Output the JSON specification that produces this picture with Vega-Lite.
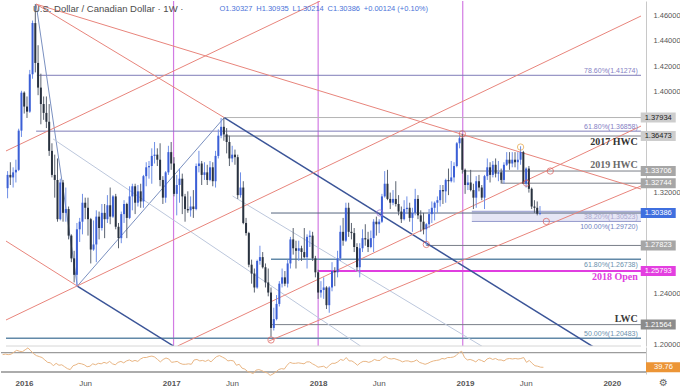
{
"$schema":"https://vega.github.io/schema/vega-lite/v6.json",
"padding":0,"spacing":1,"bounds":"flush","background":"white",
"config":{"view":{"stroke":null},"font":"Liberation Sans","axis":{"grid":false}},
"datasets":{
"candles":[
{"d":"2015-11-09","o":1.3235,"h":1.337,"l":1.3155,"c":1.334,"r":66},
{"d":"2015-11-16","o":1.334,"h":1.344,"l":1.326,"c":1.332,"r":67},
{"d":"2015-11-23","o":1.332,"h":1.34,"l":1.324,"c":1.336,"r":66},
{"d":"2015-11-30","o":1.336,"h":1.346,"l":1.328,"c":1.338,"r":67},
{"d":"2015-12-07","o":1.338,"h":1.3705,"l":1.337,"c":1.369,"r":71},
{"d":"2015-12-14","o":1.369,"h":1.4005,"l":1.364,"c":1.399,"r":75},
{"d":"2015-12-21","o":1.399,"h":1.4,"l":1.3825,"c":1.388,"r":73},
{"d":"2015-12-28","o":1.388,"h":1.396,"l":1.379,"c":1.384,"r":72},
{"d":"2016-01-04","o":1.384,"h":1.417,"l":1.383,"c":1.4135,"r":76},
{"d":"2016-01-11","o":1.4135,"h":1.456,"l":1.41,"c":1.454,"r":80},
{"d":"2016-01-18","o":1.454,"h":1.469,"l":1.415,"c":1.4225,"r":74},
{"d":"2016-01-25","o":1.4225,"h":1.4365,"l":1.397,"c":1.403,"r":68},
{"d":"2016-02-01","o":1.403,"h":1.414,"l":1.374,"c":1.39,"r":64},
{"d":"2016-02-08","o":1.39,"h":1.396,"l":1.3775,"c":1.383,"r":62},
{"d":"2016-02-15","o":1.383,"h":1.396,"l":1.371,"c":1.376,"r":60},
{"d":"2016-02-22","o":1.376,"h":1.39,"l":1.349,"c":1.353,"r":55},
{"d":"2016-02-29","o":1.353,"h":1.359,"l":1.332,"c":1.334,"r":50},
{"d":"2016-03-07","o":1.334,"h":1.35,"l":1.316,"c":1.33,"r":49},
{"d":"2016-03-14","o":1.33,"h":1.347,"l":1.297,"c":1.299,"r":43},
{"d":"2016-03-21","o":1.299,"h":1.331,"l":1.298,"c":1.328,"r":48},
{"d":"2016-03-28","o":1.328,"h":1.33,"l":1.297,"c":1.304,"r":44},
{"d":"2016-04-04","o":1.304,"h":1.324,"l":1.297,"c":1.307,"r":45},
{"d":"2016-04-11","o":1.307,"h":1.309,"l":1.283,"c":1.286,"r":41},
{"d":"2016-04-18","o":1.286,"h":1.287,"l":1.265,"c":1.268,"r":37},
{"d":"2016-04-25","o":1.268,"h":1.274,"l":1.249,"c":1.255,"r":35},
{"d":"2016-05-02","o":1.255,"h":1.296,"l":1.246,"c":1.291,"r":43},
{"d":"2016-05-09","o":1.291,"h":1.3,"l":1.281,"c":1.297,"r":45},
{"d":"2016-05-16","o":1.297,"h":1.319,"l":1.287,"c":1.312,"r":48},
{"d":"2016-05-23","o":1.312,"h":1.316,"l":1.299,"c":1.308,"r":47},
{"d":"2016-05-30","o":1.308,"h":1.316,"l":1.286,"c":1.299,"r":45},
{"d":"2016-06-06","o":1.299,"h":1.3,"l":1.264,"c":1.275,"r":41},
{"d":"2016-06-13","o":1.275,"h":1.298,"l":1.274,"c":1.279,"r":42},
{"d":"2016-06-20","o":1.279,"h":1.306,"l":1.265,"c":1.301,"r":47},
{"d":"2016-06-27","o":1.301,"h":1.305,"l":1.283,"c":1.292,"r":45},
{"d":"2016-07-04","o":1.292,"h":1.311,"l":1.29,"c":1.304,"r":48},
{"d":"2016-07-11","o":1.304,"h":1.311,"l":1.284,"c":1.299,"r":47},
{"d":"2016-07-18","o":1.299,"h":1.318,"l":1.296,"c":1.31,"r":50},
{"d":"2016-07-25","o":1.31,"h":1.324,"l":1.295,"c":1.301,"r":48},
{"d":"2016-08-01","o":1.301,"h":1.318,"l":1.3,"c":1.317,"r":52},
{"d":"2016-08-08","o":1.317,"h":1.319,"l":1.291,"c":1.293,"r":47},
{"d":"2016-08-15","o":1.293,"h":1.296,"l":1.276,"c":1.284,"r":45},
{"d":"2016-08-22","o":1.284,"h":1.305,"l":1.28,"c":1.303,"r":50},
{"d":"2016-08-29","o":1.303,"h":1.314,"l":1.296,"c":1.311,"r":52},
{"d":"2016-09-05","o":1.311,"h":1.312,"l":1.284,"c":1.3,"r":49},
{"d":"2016-09-12","o":1.3,"h":1.325,"l":1.299,"c":1.317,"r":53},
{"d":"2016-09-19","o":1.317,"h":1.327,"l":1.306,"c":1.325,"r":55},
{"d":"2016-09-26","o":1.325,"h":1.327,"l":1.303,"c":1.312,"r":52},
{"d":"2016-10-03","o":1.312,"h":1.326,"l":1.309,"c":1.321,"r":54},
{"d":"2016-10-10","o":1.321,"h":1.327,"l":1.308,"c":1.313,"r":52},
{"d":"2016-10-17","o":1.313,"h":1.334,"l":1.308,"c":1.333,"r":57},
{"d":"2016-10-24","o":1.333,"h":1.344,"l":1.325,"c":1.34,"r":60},
{"d":"2016-10-31","o":1.34,"h":1.345,"l":1.331,"c":1.341,"r":60},
{"d":"2016-11-07","o":1.341,"h":1.355,"l":1.327,"c":1.349,"r":62},
{"d":"2016-11-14","o":1.349,"h":1.36,"l":1.343,"c":1.35,"r":63},
{"d":"2016-11-21","o":1.35,"h":1.355,"l":1.341,"c":1.346,"r":61},
{"d":"2016-11-28","o":1.346,"h":1.359,"l":1.325,"c":1.33,"r":56},
{"d":"2016-12-05","o":1.33,"h":1.333,"l":1.311,"c":1.316,"r":51},
{"d":"2016-12-12","o":1.316,"h":1.337,"l":1.312,"c":1.336,"r":56},
{"d":"2016-12-19","o":1.336,"h":1.357,"l":1.334,"c":1.352,"r":59},
{"d":"2016-12-26","o":1.352,"h":1.36,"l":1.338,"c":1.343,"r":57},
{"d":"2017-01-02","o":1.343,"h":1.348,"l":1.317,"c":1.319,"r":50},
{"d":"2017-01-09","o":1.319,"h":1.334,"l":1.302,"c":1.326,"r":51},
{"d":"2017-01-16","o":1.326,"h":1.339,"l":1.312,"c":1.331,"r":52},
{"d":"2017-01-23","o":1.331,"h":1.335,"l":1.303,"c":1.317,"r":48},
{"d":"2017-01-30","o":1.317,"h":1.319,"l":1.297,"c":1.307,"r":46},
{"d":"2017-02-06","o":1.307,"h":1.321,"l":1.304,"c":1.306,"r":46},
{"d":"2017-02-13","o":1.306,"h":1.317,"l":1.301,"c":1.309,"r":47},
{"d":"2017-02-20","o":1.309,"h":1.322,"l":1.3,"c":1.307,"r":46},
{"d":"2017-02-27","o":1.307,"h":1.343,"l":1.306,"c":1.341,"r":55},
{"d":"2017-03-06","o":1.341,"h":1.353,"l":1.336,"c":1.343,"r":56},
{"d":"2017-03-13","o":1.343,"h":1.345,"l":1.326,"c":1.334,"r":53},
{"d":"2017-03-20","o":1.334,"h":1.344,"l":1.33,"c":1.336,"r":54},
{"d":"2017-03-27","o":1.336,"h":1.342,"l":1.326,"c":1.33,"r":52},
{"d":"2017-04-03","o":1.33,"h":1.345,"l":1.329,"c":1.34,"r":55},
{"d":"2017-04-10","o":1.34,"h":1.344,"l":1.325,"c":1.329,"r":51},
{"d":"2017-04-17","o":1.329,"h":1.353,"l":1.324,"c":1.349,"r":57},
{"d":"2017-04-24","o":1.349,"h":1.37,"l":1.347,"c":1.365,"r":62},
{"d":"2017-05-01","o":1.365,"h":1.379,"l":1.363,"c":1.372,"r":64},
{"d":"2017-05-08","o":1.372,"h":1.3793,"l":1.361,"c":1.366,"r":61},
{"d":"2017-05-15","o":1.366,"h":1.371,"l":1.351,"c":1.36,"r":58},
{"d":"2017-05-22","o":1.36,"h":1.365,"l":1.341,"c":1.347,"r":53},
{"d":"2017-05-29","o":1.347,"h":1.357,"l":1.344,"c":1.35,"r":54},
{"d":"2017-06-05","o":1.35,"h":1.354,"l":1.342,"c":1.348,"r":53},
{"d":"2017-06-12","o":1.348,"h":1.35,"l":1.315,"c":1.318,"r":44},
{"d":"2017-06-19","o":1.318,"h":1.336,"l":1.316,"c":1.324,"r":46},
{"d":"2017-06-26","o":1.324,"h":1.329,"l":1.295,"c":1.296,"r":38},
{"d":"2017-07-03","o":1.296,"h":1.3,"l":1.286,"c":1.288,"r":36},
{"d":"2017-07-10","o":1.288,"h":1.289,"l":1.261,"c":1.263,"r":31},
{"d":"2017-07-17","o":1.263,"h":1.267,"l":1.248,"c":1.256,"r":29},
{"d":"2017-07-24","o":1.256,"h":1.26,"l":1.241,"c":1.245,"r":27},
{"d":"2017-07-31","o":1.245,"h":1.267,"l":1.244,"c":1.266,"r":34},
{"d":"2017-08-07","o":1.266,"h":1.278,"l":1.263,"c":1.269,"r":35},
{"d":"2017-08-14","o":1.269,"h":1.273,"l":1.26,"c":1.261,"r":33},
{"d":"2017-08-21","o":1.261,"h":1.264,"l":1.245,"c":1.249,"r":30},
{"d":"2017-08-28","o":1.249,"h":1.26,"l":1.238,"c":1.241,"r":28},
{"d":"2017-09-04","o":1.241,"h":1.245,"l":1.2061,"c":1.213,"r":23},
{"d":"2017-09-11","o":1.213,"h":1.229,"l":1.211,"c":1.22,"r":26},
{"d":"2017-09-18","o":1.22,"h":1.239,"l":1.219,"c":1.232,"r":30},
{"d":"2017-09-25","o":1.232,"h":1.25,"l":1.23,"c":1.248,"r":35},
{"d":"2017-10-02","o":1.248,"h":1.26,"l":1.245,"c":1.253,"r":37},
{"d":"2017-10-09","o":1.253,"h":1.258,"l":1.246,"c":1.248,"r":36},
{"d":"2017-10-16","o":1.248,"h":1.267,"l":1.245,"c":1.264,"r":44},
{"d":"2017-10-23","o":1.264,"h":1.285,"l":1.26,"c":1.283,"r":50},
{"d":"2017-10-30","o":1.283,"h":1.292,"l":1.271,"c":1.276,"r":48},
{"d":"2017-11-06","o":1.276,"h":1.282,"l":1.26,"c":1.274,"r":48},
{"d":"2017-11-13","o":1.274,"h":1.282,"l":1.266,"c":1.276,"r":49},
{"d":"2017-11-20","o":1.276,"h":1.278,"l":1.266,"c":1.273,"r":48},
{"d":"2017-11-27","o":1.273,"h":1.292,"l":1.268,"c":1.269,"r":47},
{"d":"2017-12-04","o":1.269,"h":1.287,"l":1.26,"c":1.285,"r":51},
{"d":"2017-12-11","o":1.285,"h":1.29,"l":1.277,"c":1.286,"r":51},
{"d":"2017-12-18","o":1.286,"h":1.289,"l":1.266,"c":1.268,"r":47},
{"d":"2017-12-25","o":1.268,"h":1.27,"l":1.253,"c":1.257,"r":44},
{"d":"2018-01-01","o":1.257,"h":1.259,"l":1.236,"c":1.241,"r":40},
{"d":"2018-01-08","o":1.241,"h":1.25,"l":1.237,"c":1.243,"r":41},
{"d":"2018-01-15","o":1.243,"h":1.253,"l":1.236,"c":1.245,"r":42},
{"d":"2018-01-22","o":1.245,"h":1.246,"l":1.228,"c":1.231,"r":38},
{"d":"2018-01-29","o":1.231,"h":1.246,"l":1.225,"c":1.245,"r":44},
{"d":"2018-02-05","o":1.245,"h":1.265,"l":1.242,"c":1.258,"r":48},
{"d":"2018-02-12","o":1.258,"h":1.261,"l":1.246,"c":1.257,"r":48},
{"d":"2018-02-19","o":1.257,"h":1.274,"l":1.253,"c":1.268,"r":51},
{"d":"2018-02-26","o":1.268,"h":1.294,"l":1.266,"c":1.289,"r":56},
{"d":"2018-03-05","o":1.289,"h":1.3,"l":1.278,"c":1.282,"r":54},
{"d":"2018-03-12","o":1.282,"h":1.312,"l":1.281,"c":1.308,"r":60},
{"d":"2018-03-19","o":1.308,"h":1.312,"l":1.285,"c":1.289,"r":53},
{"d":"2018-03-26","o":1.289,"h":1.296,"l":1.283,"c":1.288,"r":53},
{"d":"2018-04-02","o":1.288,"h":1.292,"l":1.273,"c":1.277,"r":49},
{"d":"2018-04-09","o":1.277,"h":1.28,"l":1.258,"c":1.261,"r":44},
{"d":"2018-04-16","o":1.261,"h":1.28,"l":1.253,"c":1.276,"r":49},
{"d":"2018-04-23","o":1.276,"h":1.291,"l":1.273,"c":1.284,"r":52},
{"d":"2018-04-30","o":1.284,"h":1.295,"l":1.278,"c":1.283,"r":52},
{"d":"2018-05-07","o":1.283,"h":1.289,"l":1.273,"c":1.277,"r":50},
{"d":"2018-05-14","o":1.277,"h":1.29,"l":1.276,"c":1.284,"r":52},
{"d":"2018-05-21","o":1.284,"h":1.299,"l":1.273,"c":1.297,"r":56},
{"d":"2018-05-28","o":1.297,"h":1.301,"l":1.286,"c":1.295,"r":54},
{"d":"2018-06-04","o":1.295,"h":1.299,"l":1.288,"c":1.297,"r":54},
{"d":"2018-06-11","o":1.297,"h":1.319,"l":1.296,"c":1.317,"r":60},
{"d":"2018-06-18","o":1.317,"h":1.337,"l":1.316,"c":1.327,"r":62},
{"d":"2018-06-25","o":1.327,"h":1.338,"l":1.314,"c":1.315,"r":58},
{"d":"2018-07-02","o":1.315,"h":1.32,"l":1.307,"c":1.312,"r":57},
{"d":"2018-07-09","o":1.312,"h":1.322,"l":1.31,"c":1.315,"r":58},
{"d":"2018-07-16","o":1.315,"h":1.329,"l":1.309,"c":1.311,"r":56},
{"d":"2018-07-23","o":1.311,"h":1.318,"l":1.302,"c":1.305,"r":54},
{"d":"2018-07-30","o":1.305,"h":1.309,"l":1.296,"c":1.299,"r":51},
{"d":"2018-08-06","o":1.299,"h":1.314,"l":1.298,"c":1.307,"r":53},
{"d":"2018-08-13","o":1.307,"h":1.317,"l":1.303,"c":1.308,"r":53},
{"d":"2018-08-20","o":1.308,"h":1.312,"l":1.297,"c":1.3,"r":51},
{"d":"2018-08-27","o":1.3,"h":1.308,"l":1.289,"c":1.304,"r":52},
{"d":"2018-09-03","o":1.304,"h":1.323,"l":1.302,"c":1.315,"r":55},
{"d":"2018-09-10","o":1.315,"h":1.318,"l":1.299,"c":1.302,"r":50},
{"d":"2018-09-17","o":1.302,"h":1.306,"l":1.289,"c":1.297,"r":48},
{"d":"2018-09-24","o":1.297,"h":1.304,"l":1.287,"c":1.291,"r":46},
{"d":"2018-10-01","o":1.291,"h":1.296,"l":1.2782,"c":1.295,"r":48},
{"d":"2018-10-08","o":1.295,"h":1.307,"l":1.292,"c":1.303,"r":51},
{"d":"2018-10-15","o":1.303,"h":1.313,"l":1.296,"c":1.308,"r":53},
{"d":"2018-10-22","o":1.308,"h":1.313,"l":1.298,"c":1.312,"r":54},
{"d":"2018-10-29","o":1.312,"h":1.317,"l":1.304,"c":1.314,"r":55},
{"d":"2018-11-05","o":1.314,"h":1.326,"l":1.309,"c":1.322,"r":58},
{"d":"2018-11-12","o":1.322,"h":1.326,"l":1.311,"c":1.321,"r":57},
{"d":"2018-11-19","o":1.321,"h":1.331,"l":1.312,"c":1.33,"r":60},
{"d":"2018-11-26","o":1.33,"h":1.339,"l":1.318,"c":1.329,"r":60},
{"d":"2018-12-03","o":1.329,"h":1.345,"l":1.328,"c":1.332,"r":61},
{"d":"2018-12-10","o":1.332,"h":1.344,"l":1.328,"c":1.341,"r":64},
{"d":"2018-12-17","o":1.341,"h":1.36,"l":1.34,"c":1.359,"r":70},
{"d":"2018-12-24","o":1.359,"h":1.365,"l":1.355,"c":1.363,"r":73},
{"d":"2018-12-31","o":1.363,"h":1.3665,"l":1.335,"c":1.338,"r":60},
{"d":"2019-01-07","o":1.338,"h":1.339,"l":1.319,"c":1.326,"r":55},
{"d":"2019-01-14","o":1.326,"h":1.334,"l":1.322,"c":1.328,"r":56},
{"d":"2019-01-21","o":1.328,"h":1.338,"l":1.321,"c":1.322,"r":54},
{"d":"2019-01-28","o":1.322,"h":1.327,"l":1.307,"c":1.316,"r":51},
{"d":"2019-02-04","o":1.316,"h":1.333,"l":1.308,"c":1.329,"r":56},
{"d":"2019-02-11","o":1.329,"h":1.334,"l":1.321,"c":1.324,"r":54},
{"d":"2019-02-18","o":1.324,"h":1.326,"l":1.314,"c":1.316,"r":51},
{"d":"2019-02-25","o":1.316,"h":1.334,"l":1.307,"c":1.333,"r":57},
{"d":"2019-03-04","o":1.333,"h":1.347,"l":1.33,"c":1.34,"r":59},
{"d":"2019-03-11","o":1.34,"h":1.344,"l":1.328,"c":1.334,"r":56},
{"d":"2019-03-18","o":1.334,"h":1.345,"l":1.332,"c":1.342,"r":58},
{"d":"2019-03-25","o":1.342,"h":1.347,"l":1.332,"c":1.335,"r":55},
{"d":"2019-04-01","o":1.335,"h":1.345,"l":1.329,"c":1.336,"r":55},
{"d":"2019-04-08","o":1.336,"h":1.339,"l":1.327,"c":1.33,"r":53},
{"d":"2019-04-15","o":1.33,"h":1.344,"l":1.327,"c":1.342,"r":57},
{"d":"2019-04-22","o":1.342,"h":1.352,"l":1.341,"c":1.346,"r":58},
{"d":"2019-04-29","o":1.346,"h":1.352,"l":1.338,"c":1.343,"r":57},
{"d":"2019-05-06","o":1.343,"h":1.352,"l":1.34,"c":1.346,"r":58},
{"d":"2019-05-13","o":1.346,"h":1.352,"l":1.34,"c":1.344,"r":57},
{"d":"2019-05-20","o":1.344,"h":1.352,"l":1.338,"c":1.346,"r":58},
{"d":"2019-05-27","o":1.346,"h":1.3566,"l":1.342,"c":1.352,"r":60},
{"d":"2019-06-03","o":1.352,"h":1.353,"l":1.327,"c":1.327,"r":50},
{"d":"2019-06-10","o":1.327,"h":1.34,"l":1.324,"c":1.339,"r":54},
{"d":"2019-06-17","o":1.339,"h":1.341,"l":1.32,"c":1.323,"r":48},
{"d":"2019-06-24","o":1.323,"h":1.324,"l":1.307,"c":1.309,"r":43},
{"d":"2019-07-01","o":1.309,"h":1.314,"l":1.304,"c":1.308,"r":42},
{"d":"2019-07-08","o":1.308,"h":1.313,"l":1.302,"c":1.3033,"r":40},
{"d":"2019-07-15","o":1.30327,"h":1.30935,"l":1.30214,"c":1.30386,"r":39.76}
],
"zone":[{"d":"2019-01-24","lo":1.2972,"hi":1.30523}],
"years":[{"d":"2017-01-01"},{"d":"2018-01-01"},{"d":"2019-01-01"}],
"levels":[
{"k":"fib","p":1.41274,"d":"2016-01-22"},
{"k":"fib","p":1.36858,"d":"2016-01-20"},
{"k":"peak","p":1.37934,"d":"2017-05-09"},
{"k":"close","p":1.36473,"d":"2017-05-08"},
{"k":"close","p":1.33706,"d":"2018-12-31"},
{"k":"close","p":1.32744,"d":"2019-04-10"},
{"k":"price","p":1.30386,"d":"2017-09-04"},
{"k":"zone","p":1.30523,"d":"2019-01-24"},
{"k":"zone","p":1.2972,"d":"2019-01-24"},
{"k":"close","p":1.27823,"d":"2018-10-01"},
{"k":"fib2","p":1.26738,"d":"2017-09-04"},
{"k":"open","p":1.25793,"d":"2018-01-01"},
{"k":"close","p":1.21564,"d":"2017-09-04"},
{"k":"fib2","p":1.20483,"d":"2015-11-05"}
],
"bracket":[{"d":"2019-04-10","lo":1.32744,"hi":1.33706}],
"trends":[
{"k":"blue","d":"2016-05-03","p":1.2461,"d2":"2017-01-01","p2":1.1987},
{"k":"blue","d":"2017-05-09","p":1.3793,"d2":"2019-11-27","p2":1.198},
{"k":"bluethin","d":"2016-05-03","p":1.2461,"d2":"2017-05-09","p2":1.3793},
{"k":"bluethin","d":"2016-01-20","p":1.469,"d2":"2016-05-03","p2":1.2461},
{"k":"tine","d":"2016-03-03","p":1.3624,"d2":"2018-04-18","p2":1.1987},
{"k":"tine","d":"2017-05-30","p":1.3173,"d2":"2019-02-22","p2":1.1979},
{"k":"salmon","d":"2016-01-20","p":1.469,"d2":"2020-03-26","p2":1.3228},
{"k":"salmon","d":"2016-01-20","p":1.469,"d2":"2017-05-09","p2":1.3793},
{"k":"salmon","d":"2015-11-05","p":1.3529,"d2":"2018-01-06","p2":1.4714},
{"k":"salmon","d":"2015-11-05","p":1.2193,"d2":"2020-03-26","p2":1.4596},
{"k":"salmon","d":"2015-11-05","p":1.2817,"d2":"2016-05-03","p2":1.2461},
{"k":"salmon","d":"2017-01-11","p":1.1987,"d2":"2020-03-26","p2":1.3726},
{"k":"salmon","d":"2017-08-30","p":1.2027,"d2":"2020-03-26","p2":1.3252}
],
"circles":[
{"k":"red","d":"2017-09-04","p":1.2035},
{"k":"red","d":"2018-10-01","p":1.279},
{"k":"red","d":"2018-12-31","p":1.3665},
{"k":"red","d":"2019-07-31","p":1.2972},
{"k":"red","d":"2019-08-10","p":1.33706},
{"k":"red","d":"2019-06-11","p":1.32744},
{"k":"purple","d":"2018-06-06","p":1.3039},
{"k":"gold","d":"2019-05-27","p":1.356}
],
"fibAbove":[
{"t":"78.60%(1.41274)","p":1.41274,"k":"fib"},
{"t":"61.80%(1.36858)","p":1.36858,"k":"fib"},
{"t":"50.00%(1.20483)","p":1.20483,"k":"fib2"}
],
"fibBelow":[
{"t":"38.20%(1.30523)","p":1.30523,"k":"zone38"},
{"t":"100.00%(1.29720)","p":1.2972,"k":"zone100"},
{"t":"61.80%(1.26738)","p":1.26738,"k":"fib2"}
],
"notesAbove":[
{"t":"2019 HWC","p":1.33706,"k":"close2"},
{"t":"LWC","p":1.21564,"k":"close"}
],
"notesBelow":[
{"t":"2017 HWC","p":1.36473,"k":"close"},
{"t":"2018 Open","p":1.25793,"k":"open"}
],
"tags":[
{"t":"1.37934","p":1.37934,"k":"light"},
{"t":"1.36473","p":1.36473,"k":"light"},
{"t":"1.33706","p":1.33706,"k":"gray"},
{"t":"1.32744","p":1.32744,"k":"gray"},
{"t":"1.30386","p":1.30386,"k":"price"},
{"t":"1.27823","p":1.27823,"k":"gray"},
{"t":"1.25793","p":1.25793,"k":"open"},
{"t":"1.21564","p":1.21564,"k":"dark"}
]
},
"vconcat":[
{
"width":645,"height":345,
"resolve":{"scale":{"color":"independent","strokeWidth":"independent"}},
"layer":[
{"data":{"name":"zone"},"mark":{"type":"rect","color":"#e6e6f5"},
 "encoding":{"x":{"field":"d","type":"temporal","scale":{"type":"utc","domain":[{"year":2015,"month":11,"date":5,"utc":true},{"year":2020,"month":3,"date":26,"utc":true}]},"axis":null},
 "x2":{"datum":{"year":2020,"month":3,"date":26,"utc":true}},"y":{"field":"lo","type":"quantitative","title":null,"scale":{"domain":[1.19874,1.47146],"zero":false,"nice":false},
  "axis":{"orient":"right","values":[1.2,1.24,1.32,1.4,1.42,1.44,1.46],"format":".5f","labelFontSize":7.5,"labelColor":"#555","labelFont":"Liberation Sans","ticks":false,"labelPadding":7,"domain":true,"domainColor":"#c8c8c8","grid":false,"title":null,"labelOverlap":false,"labelBound":false,"labelFlush":false}},"y2":{"field":"hi"}}},
{"data":{"name":"years"},"mark":{"type":"rule","color":"#d27be3","strokeWidth":1.2},"encoding":{"x":{"field":"d","type":"temporal","axis":null}}},
{"data":{"name":"levels"},"mark":{"type":"rule","clip":true},
 "encoding":{"x":{"field":"d","type":"temporal","axis":null},"x2":{"datum":{"year":2020,"month":3,"date":26,"utc":true}},"y":{"field":"p","type":"quantitative","title":null},
 "color":{"field":"k","type":"nominal","scale":{"domain":["fib","peak","close","price","zone","fib2","open"],"range":["#7f7cb8","#b4b4b4","#7a7f88","#55667e","#9499cc","#6289a8","#e03de0"]},"legend":null},
 "strokeWidth":{"field":"k","type":"nominal","scale":{"type":"ordinal","domain":["fib","peak","close","price","zone","fib2","open"],"range":[1,1,1,1,1,1.5,2]},"legend":null}}},
{"data":{"name":"bracket"},"mark":{"type":"rule","color":"#7a7f88"},
 "encoding":{"x":{"field":"d","type":"temporal","axis":null},"y":{"field":"lo","type":"quantitative","title":null},"y2":{"field":"hi"}}},
{"data":{"name":"trends"},"mark":{"type":"rule","clip":true},
 "encoding":{"x":{"field":"d","type":"temporal","axis":null},"x2":{"field":"d2"},"y":{"field":"p","type":"quantitative","title":null},"y2":{"field":"p2"},
 "color":{"field":"k","type":"nominal","scale":{"domain":["blue","bluethin","tine","salmon"],"range":["#3b5598","#7a90c0","#bcc7dc","#e8857c"]},"legend":null},
 "strokeWidth":{"field":"k","type":"nominal","scale":{"type":"ordinal","domain":["blue","bluethin","tine","salmon"],"range":[1.5,1,1,1]},"legend":null}}},
{"data":{"name":"candles"},"mark":{"type":"rule","strokeWidth":1},
 "encoding":{"x":{"field":"d","type":"temporal","axis":null},"y":{"field":"l","type":"quantitative","title":null},"y2":{"field":"h"},
  "color":{"condition":{"test":"datum.c >= datum.o","value":"#6f8fe6"},"value":"#5b6370"}}},
{"data":{"name":"candles"},"mark":{"type":"bar","width":2},
 "encoding":{"x":{"field":"d","type":"temporal","axis":null},"y":{"field":"o","type":"quantitative","title":null},"y2":{"field":"c"},
  "color":{"condition":{"test":"datum.c >= datum.o","value":"#3b5fd6"},"value":"#29323f"}}},
{"data":{"name":"circles"},"mark":{"type":"point","shape":"circle","filled":false,"size":40,"strokeWidth":1},
 "encoding":{"x":{"field":"d","type":"temporal","axis":null},"y":{"field":"p","type":"quantitative","title":null},
 "color":{"field":"k","type":"nominal","scale":{"domain":["red","purple","gold"],"range":["#dd5c58","#9b6fd1","#e6a23c"]},"legend":null}}},
{"data":{"name":"fibAbove"},"mark":{"type":"text","align":"right","baseline":"bottom","dy":-1,"fontSize":7,"font":"Liberation Sans"},
 "encoding":{"x":{"datum":{"year":2020,"month":3,"date":18,"utc":true},"type":"temporal","axis":null},"y":{"field":"p","type":"quantitative","title":null},"text":{"field":"t"},
 "color":{"field":"k","type":"nominal","scale":{"domain":["fib","fib2"],"range":["#8580c4","#6a90ad"]},"legend":null}}},
{"data":{"name":"fibBelow"},"mark":{"type":"text","align":"right","baseline":"top","dy":1.5,"fontSize":7,"font":"Liberation Sans"},
 "encoding":{"x":{"datum":{"year":2020,"month":3,"date":18,"utc":true},"type":"temporal","axis":null},"y":{"field":"p","type":"quantitative","title":null},"text":{"field":"t"},
 "color":{"field":"k","type":"nominal","scale":{"domain":["zone38","zone100","fib2"],"range":["#a9a7cf","#6f7fc0","#6a90ad"]},"legend":null}}},
{"data":{"name":"notesAbove"},"mark":{"type":"text","align":"right","baseline":"bottom","dy":-1,"fontSize":10,"fontWeight":"bold","font":"Liberation Serif"},
 "encoding":{"x":{"datum":{"year":2020,"month":3,"date":18,"utc":true},"type":"temporal","axis":null},"y":{"field":"p","type":"quantitative","title":null},"text":{"field":"t"},
 "color":{"field":"k","type":"nominal","scale":{"domain":["close","close2"],"range":["#3c3c3c","#6a6a6a"]},"legend":null}}},
{"data":{"name":"notesBelow"},"mark":{"type":"text","align":"right","baseline":"top","dy":1,"fontSize":10,"fontWeight":"bold","font":"Liberation Serif"},
 "encoding":{"x":{"datum":{"year":2020,"month":3,"date":18,"utc":true},"type":"temporal","axis":null},"y":{"field":"p","type":"quantitative","title":null},"text":{"field":"t"},
 "color":{"field":"k","type":"nominal","scale":{"domain":["close","open"],"range":["#333333","#e03de0"]},"legend":null}}},
{"data":{"name":"tags"},"mark":{"type":"point","filled":true,"opacity":1,"size":1225,"shape":"M-1,-0.2857L1,-0.2857L1,0.2857L-1,0.2857Z"},
 "encoding":{"x":{"datum":{"year":2020,"month":5,"date":8,"hours":12,"utc":true},"type":"temporal","axis":null},"y":{"field":"p","type":"quantitative","title":null},
 "color":{"field":"k","type":"nominal","scale":{"domain":["light","gray","price","open","dark"],"range":["#cdcdcd","#a6a6a6","#3f6fdf","#e33fe0","#8c8c8c"]},"legend":null}}},
{"data":{"name":"tags"},"mark":{"type":"text","align":"center","baseline":"middle","fontSize":7.5,"font":"Liberation Sans"},
 "encoding":{"x":{"datum":{"year":2020,"month":5,"date":8,"hours":12,"utc":true},"type":"temporal","axis":null},"y":{"field":"p","type":"quantitative","title":null},"text":{"field":"t"},
 "color":{"field":"k","type":"nominal","scale":{"domain":["light","gray","price","open","dark"],"range":["#222222","#ffffff","#ffffff","#ffffff","#ffffff"]},"legend":null}}},
{"data":{"values":[{}]},"mark":{"type":"text","align":"left","baseline":"middle","fontSize":9.5,"font":"Liberation Sans","color":"#4d4d4d","text":"U.S. Dollar / Canadian Dollar · 1W ·"},
 "encoding":{"x":{"datum":{"year":2016,"month":1,"date":12,"utc":true},"type":"temporal","axis":null},"y":{"datum":1.4651,"type":"quantitative","title":null}}},
{"data":{"values":[{}]},"mark":{"type":"text","align":"left","baseline":"middle","fontSize":7.5,"font":"Liberation Sans","color":"#4b73d8","text":"O1.30327\u2002H1.30935\u2002L1.30214\u2002C1.30386\u2002+0.00124 (+0.10%)"},
 "encoding":{"x":{"datum":{"year":2017,"month":4,"date":27,"utc":true},"type":"temporal","axis":null},"y":{"datum":1.4651,"type":"quantitative","title":null}}},
{"data":{"values":[{}]},"mark":{"type":"rule","color":"#d6d6d6"},
 "encoding":{"x":{"datum":{"year":2015,"month":11,"date":5,"utc":true},"type":"temporal","axis":null},"x2":{"datum":{"year":2020,"month":3,"date":26,"utc":true}},"y":{"datum":1.19874,"type":"quantitative","title":null}}}
]
},
{
"width":645,"height":27,
"layer":[
{"data":{"values":[{}]},"mark":{"type":"rule","color":"#9c9c9c","strokeWidth":1.2},
 "encoding":{"y":{"datum":70,"type":"quantitative","title":null,"scale":{"domain":[25.9,81.8],"zero":false,"nice":false},"axis":{"orient":"right","labels":false,"ticks":false,"domain":true,"domainColor":"#c8c8c8","title":null,"grid":false}}}},
{"data":{"values":[{}]},"mark":{"type":"rule","color":"#acacac","strokeWidth":2},
 "encoding":{"y":{"datum":30,"type":"quantitative","title":null}}},
{"data":{"name":"candles"},"mark":{"type":"line","color":"#e9b684","strokeWidth":1},
 "encoding":{"x":{"field":"d","type":"temporal","title":null,"scale":{"type":"utc","domain":[{"year":2015,"month":11,"date":5,"utc":true},{"year":2020,"month":3,"date":26,"utc":true}]},
  "axis":{"values":[{"year":2016,"month":1,"date":1,"utc":true},{"year":2016,"month":6,"date":1,"utc":true},{"year":2017,"month":1,"date":1,"utc":true},{"year":2017,"month":6,"date":1,"utc":true},{"year":2018,"month":1,"date":1,"utc":true},{"year":2018,"month":6,"date":1,"utc":true},{"year":2019,"month":1,"date":1,"utc":true},{"year":2019,"month":6,"date":1,"utc":true},{"year":2020,"month":1,"date":1,"utc":true}],
  "labelExpr":"utcmonth(datum.value) == 0 ? utcFormat(datum.value, '%Y') : 'Jun'","labelFontWeight":{"condition":{"test":"utcmonth(datum.value) == 0","value":"bold"},"value":"normal"},
  "ticks":false,"domain":false,"labelPadding":5,"labelFontSize":8,"labelColor":"#555","labelFont":"Liberation Sans","title":null,"grid":false,"labelOverlap":false,"labelFlush":false}},
  "y":{"field":"r","type":"quantitative","title":null}}},
{"data":{"values":[{}]},"mark":{"type":"point","filled":true,"opacity":1,"size":1225,"color":"#ec9536","shape":"M-1,-0.2857L1,-0.2857L1,0.2857L-1,0.2857Z"},
 "encoding":{"x":{"datum":{"year":2020,"month":5,"date":8,"hours":12,"utc":true},"type":"temporal","title":null},"y":{"datum":39.76,"type":"quantitative","title":null}}},
{"data":{"values":[{}]},"mark":{"type":"text","align":"center","baseline":"middle","fontSize":7.5,"font":"Liberation Sans","color":"#ffffff","text":"39.76"},
 "encoding":{"x":{"datum":{"year":2020,"month":5,"date":8,"hours":12,"utc":true},"type":"temporal","title":null},"y":{"datum":39.76,"type":"quantitative","title":null}}},
{"data":{"values":[{}]},"mark":{"type":"text","align":"center","baseline":"middle","fontSize":10,"font":"DejaVu Sans","color":"#666666","text":"⚙"},
 "encoding":{"x":{"datum":{"year":2020,"month":5,"date":8,"hours":12,"utc":true},"type":"temporal","title":null},"y":{"datum":8,"type":"quantitative","title":null}}}
]
}
]
}
